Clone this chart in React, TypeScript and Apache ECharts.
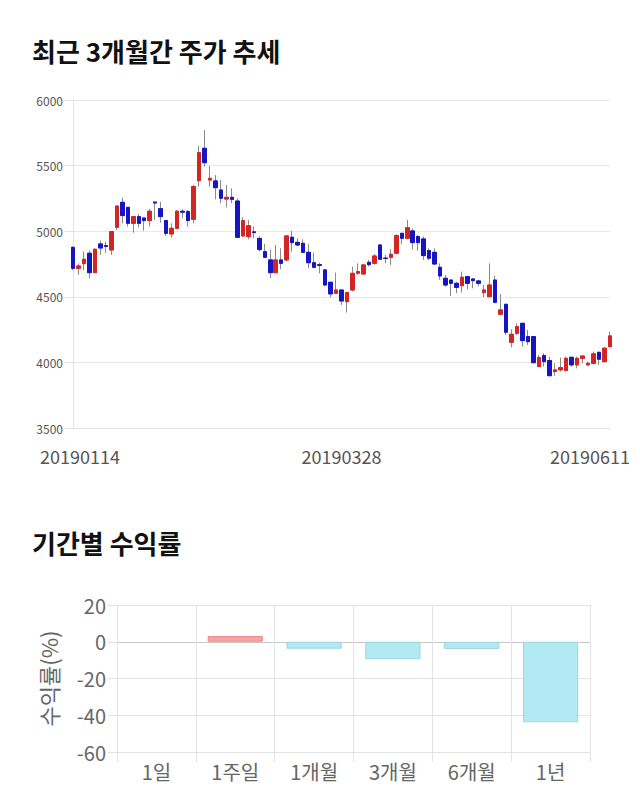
import React, { useEffect, useRef } from "react";
import * as echarts from "echarts";

const dates = [
  "20190114","20190115","20190116","20190117","20190118","20190121","20190122","20190123","20190124","20190125",
  "20190128","20190129","20190130","20190131","20190201","20190207","20190208","20190211","20190212","20190213",
  "20190214","20190215","20190218","20190219","20190220","20190221","20190222","20190225","20190226","20190227",
  "20190228","20190304","20190305","20190306","20190307","20190308","20190311","20190312","20190313","20190314",
  "20190315","20190318","20190319","20190320","20190321","20190322","20190325","20190326","20190327","20190328",
  "20190329","20190401","20190402","20190403","20190404","20190405","20190408","20190409","20190410","20190411",
  "20190412","20190415","20190416","20190417","20190418","20190419","20190422","20190423","20190424","20190425",
  "20190426","20190429","20190430","20190503","20190507","20190508","20190509","20190510","20190513","20190514",
  "20190515","20190516","20190517","20190520","20190521","20190522","20190523","20190524","20190527","20190528",
  "20190529","20190530","20190531","20190603","20190604","20190605","20190607","20190610","20190611"
];

const openPrices = [
  4877,4717,4753,4832,4684,4903,4890,4857,5030,5220,
  5182,5060,5111,5101,5081,5222,5172,5081,4979,5022,
  5152,5149,5091,5385,5632,5390,5383,5314,5245,5258,
  5230,4964,4959,4995,4945,4844,4781,4684,4781,4781,
  4954,4915,4908,4839,4760,4745,4705,4611,4527,4552,
  4463,4552,4680,4674,4763,4755,4895,4795,4801,4832,
  4984,4946,5002,4959,4941,4852,4839,4725,4641,4628,
  4603,4585,4654,4636,4621,4532,4501,4628,4367,4443,
  4153,4222,4298,4197,4197,3968,4052,4014,3930,3943,
  3938,4039,3981,4031,3981,3993,4077,4006,4120
];
const closePrices = [
  4717,4735,4786,4684,4862,4872,4884,4997,5192,5119,
  5060,5111,5060,5081,5152,5215,5111,4984,5022,5152,
  5145,5081,5340,5599,5522,5403,5332,5251,5258,5243,
  4953,5081,5042,4989,4860,4801,4684,4781,4755,4964,
  4913,4895,4839,4760,4725,4740,4590,4522,4552,4468,
  4532,4679,4692,4743,4745,4811,4786,4792,4824,4966,
  4946,5027,4913,4913,4814,4794,4750,4659,4590,4603,
  4572,4649,4603,4623,4603,4552,4590,4458,4400,4230,
  4214,4273,4166,4158,3998,4037,4006,3899,3943,3960,
  4031,3981,4031,4049,3993,4065,4024,4108,4202
];
const lowPrices = [
  4705,4667,4705,4641,4684,4819,4832,4819,5009,5060,
  5035,4989,5030,5004,5035,5086,5065,4964,4953,5015,
  5098,5035,5060,5340,5492,5340,5243,5213,5182,5213,
  4950,4959,4938,4946,4845,4794,4641,4684,4710,4770,
  4844,4887,4832,4717,4717,4679,4580,4496,4522,4438,
  4380,4540,4667,4667,4730,4745,4781,4755,4743,4826,
  4903,4938,4862,4852,4781,4781,4743,4628,4577,4506,
  4527,4532,4557,4565,4580,4496,4496,4450,4362,4209,
  4115,4209,4120,4133,3993,3968,3968,3892,3897,3930,
  3930,3968,3955,3993,3975,3985,3981,4000,4115
];
const highPrices = [
  4885,4755,4844,4852,4870,4928,4920,4997,5192,5256,
  5182,5116,5131,5101,5170,5225,5225,5081,5060,5162,
  5167,5162,5352,5650,5771,5497,5428,5390,5352,5327,
  5250,5106,5086,5035,4960,4903,4862,4895,4870,4970,
  5003,4946,4938,4903,4837,4760,4705,4611,4684,4552,
  4532,4730,4755,4743,4781,4826,4903,4819,4862,4976,
  4984,5086,5022,4971,4959,4870,4870,4755,4667,4628,
  4616,4692,4654,4641,4626,4590,4755,4660,4522,4443,
  4252,4298,4298,4247,4197,4057,4070,4044,3993,4037,
  4044,4044,4044,4049,4006,4082,4082,4118,4235
];

const priceTicks = [3500, 4000, 4500, 5000, 5500, 6000];

const periods = ["1일", "1주일", "1개월", "3개월", "6개월", "1년"];
const returns = [0, 3.1, -3.8, -9.5, -3.9, -43.8];
const returnTicks = [-60, -40, -20, 0, 20];

const FONT = "'Noto Sans CJK KR', 'Noto Sans', sans-serif";
const UP = "#d42525";
const DOWN = "#1515c4";
const WICK = "#8a8a8a";
const GRID = "#e3e3e3";

export default function App() {
  const ref = useRef<HTMLDivElement>(null);

  useEffect(() => {
    if (!ref.current) return;
    const chart = echarts.init(ref.current, null, { renderer: "svg" });

    const wickData = dates.map((_, i) => [openPrices[i], closePrices[i], lowPrices[i], highPrices[i]]);
    const bodyData = dates.map((_, i) => [
      openPrices[i],
      closePrices[i],
      Math.min(openPrices[i], closePrices[i]),
      Math.max(openPrices[i], closePrices[i]),
    ]);
    const last = dates.length - 1;

    const option: any = {
      animation: false,
      backgroundColor: "#ffffff",
      textStyle: { fontFamily: FONT },
      title: [
        {
          text: "최근 3개월간 주가 추세",
          left: 32,
          top: 37,
          padding: 0,
          textStyle: { fontSize: 26, fontWeight: "bold", color: "#111", fontFamily: FONT },
        },
        {
          text: "기간별 수익률",
          left: 32,
          top: 529,
          padding: 0,
          textStyle: { fontSize: 26, fontWeight: "bold", color: "#111", fontFamily: FONT },
        },
      ],
      grid: [
        { left: 73, right: 30, top: 100, height: 328 },
        { left: 117, right: 50, top: 605, height: 147 },
      ],
      xAxis: [
        {
          type: "category",
          gridIndex: 0,
          data: dates,
          boundaryGap: false,
          axisLine: { show: true, lineStyle: { color: GRID } },
          axisTick: { show: false },
          splitLine: { show: false },
          axisLabel: {
            interval: 48,
            margin: 19,
            fontSize: 18,
            color: "#555",
            fontFamily: FONT,
            formatter: (v: string, i: number) =>
              i === 0 ? `{l|${v}}` : i === last ? `{r|${v}}` : `{m|${v}}`,
            rich: {
              l: { fontSize: 18, color: "#555", fontFamily: FONT, padding: [0, 0, 0, 14] },
              m: { fontSize: 18, color: "#555", fontFamily: FONT },
              r: { fontSize: 18, color: "#555", fontFamily: FONT, padding: [0, 40, 0, 0] },
            },
          },
        },
        {
          type: "category",
          gridIndex: 1,
          data: periods,
          axisLine: { show: true, onZero: false, lineStyle: { color: GRID } },
          axisTick: { show: true, length: 10, lineStyle: { color: GRID } },
          splitLine: { show: true, lineStyle: { color: GRID } },
          axisLabel: { fontSize: 20, color: "#666", margin: 9, fontFamily: FONT },
        },
      ],
      yAxis: [
        {
          type: "value",
          gridIndex: 0,
          min: priceTicks[0],
          max: priceTicks[priceTicks.length - 1],
          interval: 500,
          axisLine: { show: true, lineStyle: { color: GRID } },
          axisTick: { show: true, length: 8, lineStyle: { color: GRID } },
          splitLine: { show: true, lineStyle: { color: "#e8e8e8" } },
          axisLabel: {
            fontSize: 12,
            color: "#555",
            margin: 10,
            fontFamily: FONT,
            formatter: (v: number) => String(v),
          },
        },
        {
          type: "value",
          gridIndex: 1,
          min: returnTicks[0],
          max: returnTicks[returnTicks.length - 1],
          interval: 20,
          name: "수익률(%)",
          nameLocation: "middle",
          nameGap: 58,
          nameRotate: 90,
          nameTextStyle: { fontSize: 22, color: "#666", fontFamily: FONT },
          axisLine: { show: true, lineStyle: { color: GRID } },
          axisTick: { show: true, length: 9, lineStyle: { color: GRID } },
          splitLine: {
            show: true,
            lineStyle: { color: [GRID, GRID, GRID, "#c8c8c8", GRID] },
          },
          axisLabel: {
            fontSize: 20,
            color: "#666",
            margin: 11,
            fontFamily: FONT,
            formatter: (v: number) => String(v),
          },
        },
      ],
      series: [
        {
          type: "candlestick",
          xAxisIndex: 0,
          yAxisIndex: 0,
          data: wickData,
          barWidth: 4,
          itemStyle: { color: WICK, color0: WICK, borderColor: WICK, borderColor0: WICK, borderWidth: 1 },
        },
        {
          type: "candlestick",
          xAxisIndex: 0,
          yAxisIndex: 0,
          data: bodyData,
          barWidth: 4,
          itemStyle: { color: UP, color0: DOWN, borderColor: UP, borderColor0: DOWN, borderWidth: 1 },
        },
        {
          type: "bar",
          xAxisIndex: 1,
          yAxisIndex: 1,
          barWidth: "70%",
          data: returns.map((v) => ({
            value: v,
            itemStyle:
              v > 0
                ? { color: "#f7a3a3", borderColor: "#ef8a8a", borderWidth: 1 }
                : v < 0
                ? { color: "#b3e9f3", borderColor: "#9dd5e0", borderWidth: 1 }
                : { color: "transparent", borderWidth: 0 },
          })),
        },
      ],
    };

    chart.setOption(option);
    return () => chart.dispose();
  }, []);

  return (
    <div
      ref={ref}
      style={{ position: "absolute", left: 0, top: 0, width: 640, height: 810, background: "#fff" }}
    />
  );
}
